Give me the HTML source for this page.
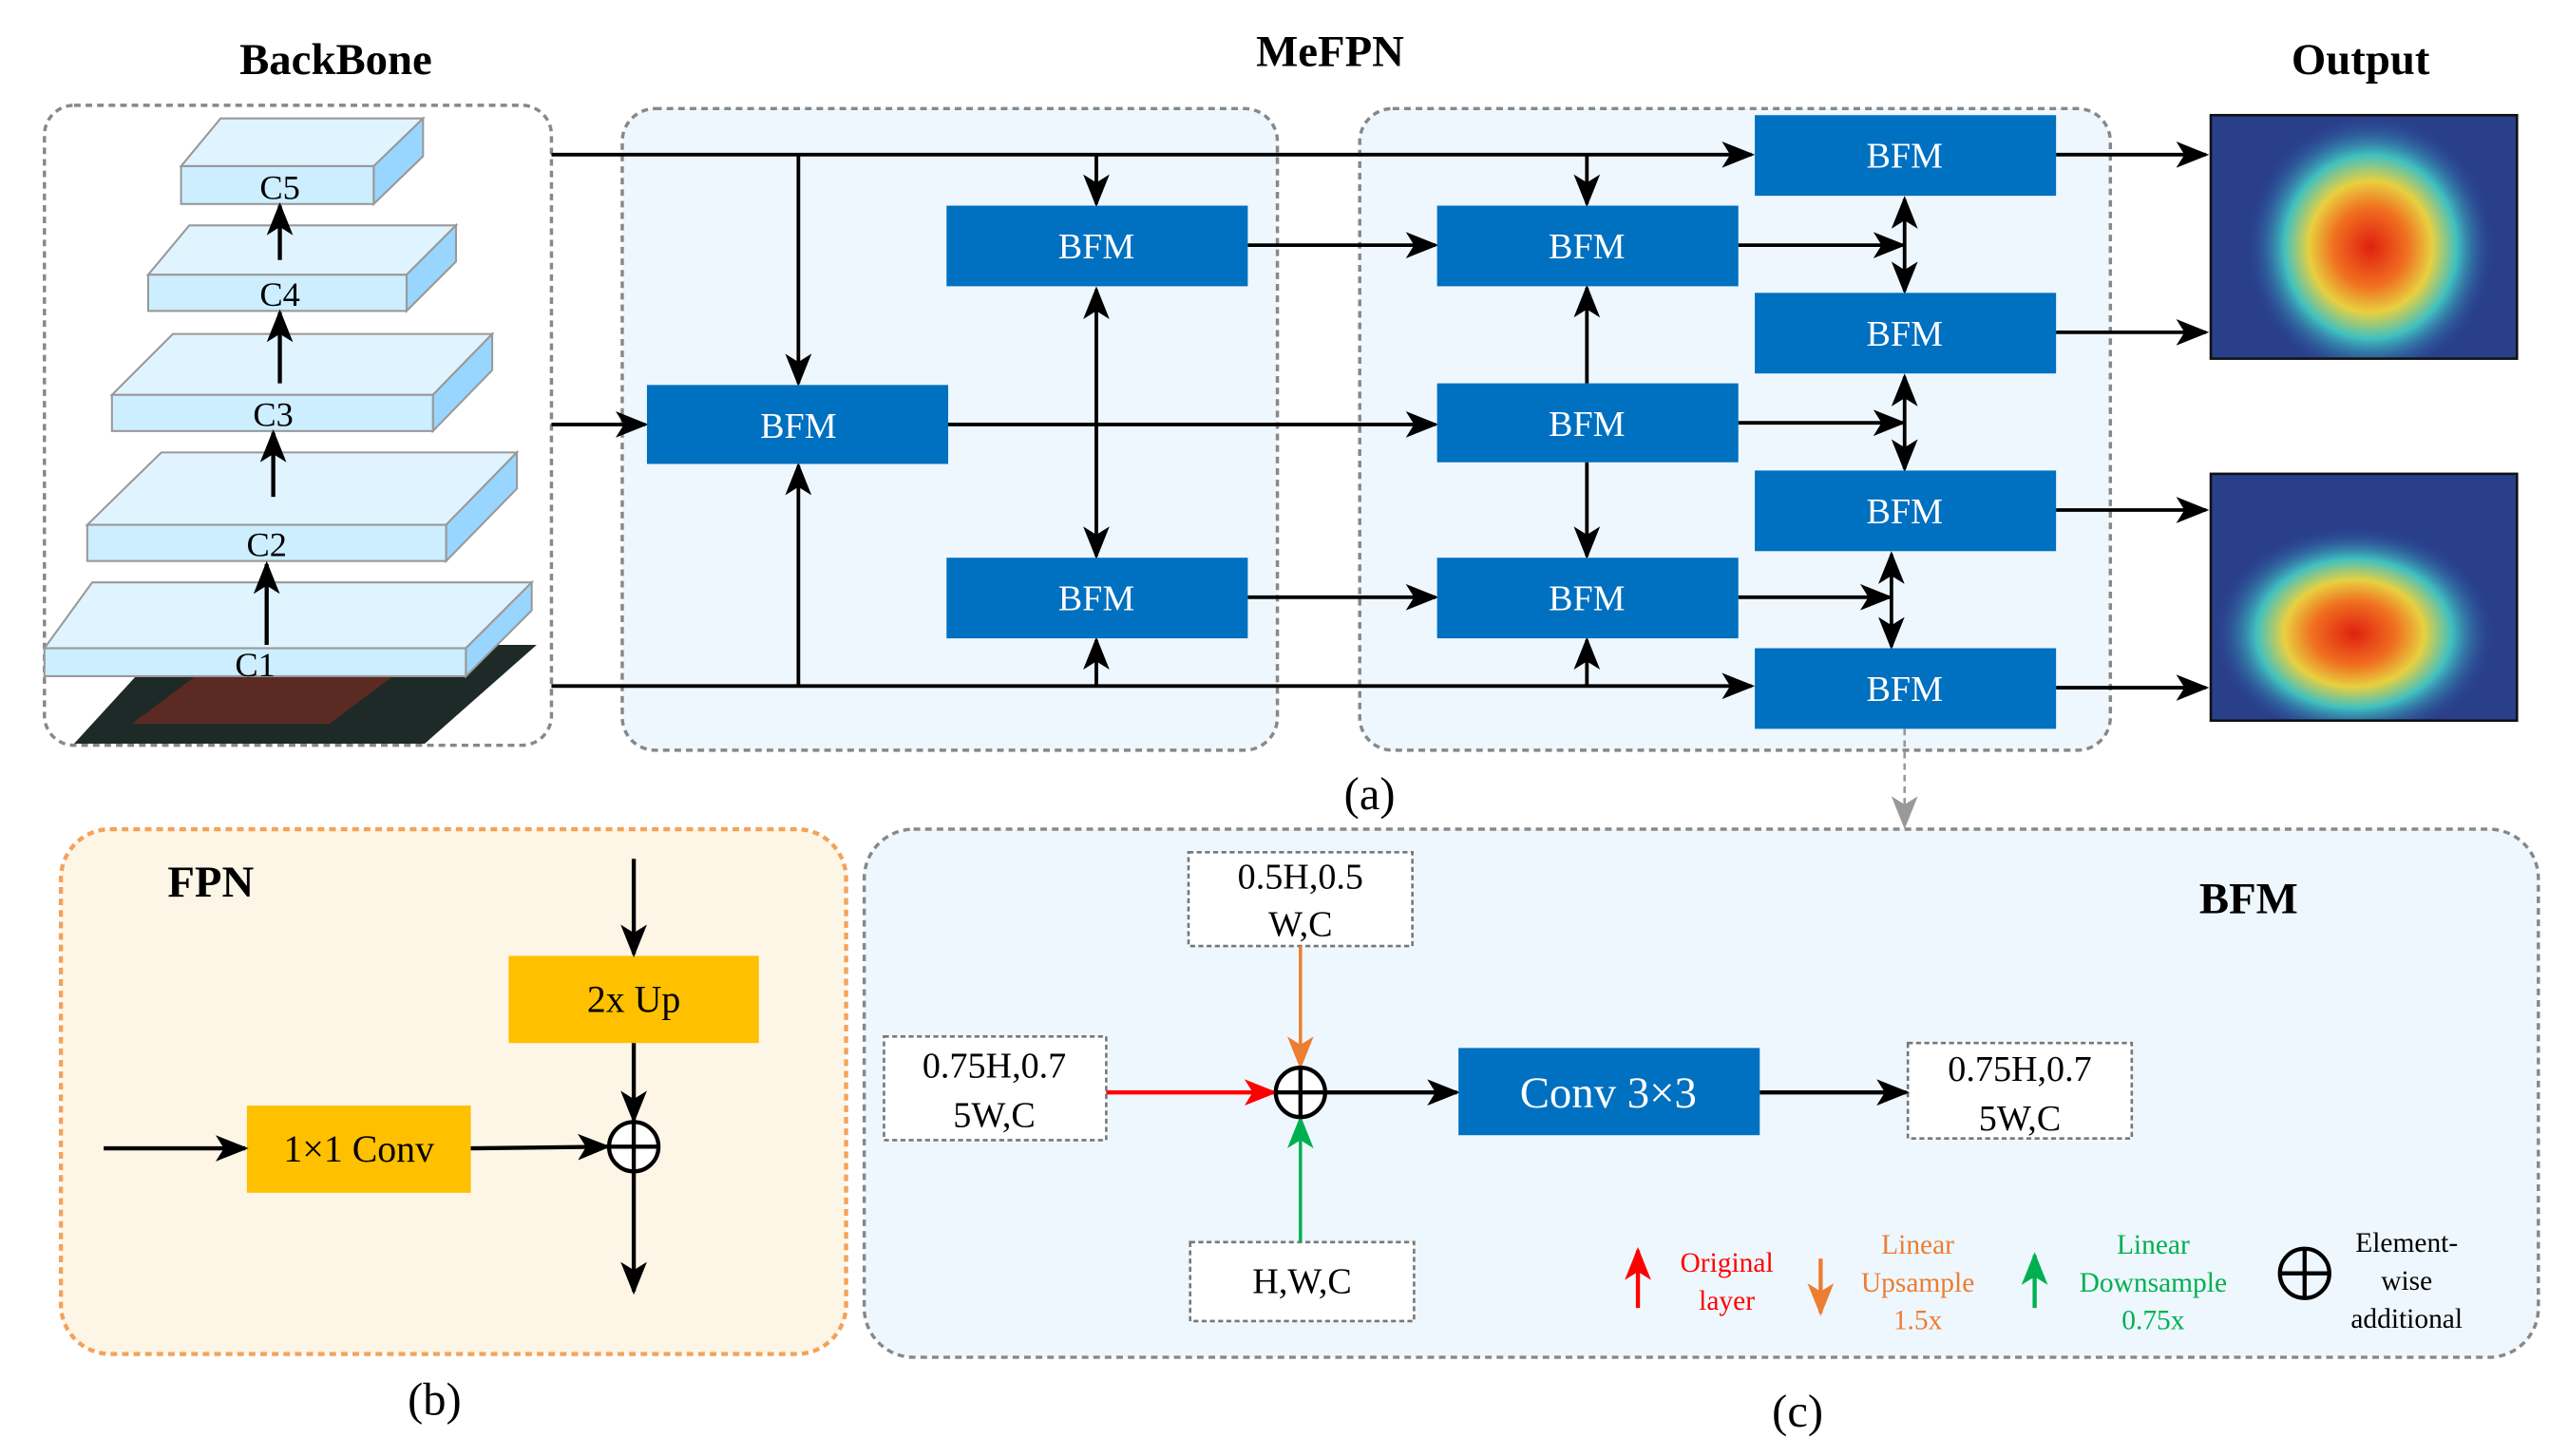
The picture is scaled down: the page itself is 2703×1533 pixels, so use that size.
<!DOCTYPE html>
<html><head><meta charset="utf-8"><style>
html,body{margin:0;padding:0;background:#fff;width:2703px;height:1533px;overflow:hidden}
svg{display:block}
svg text{font-family:"Liberation Serif","Times New Roman","DejaVu Serif",serif}
</style></head><body>
<svg width="2703" height="1533" viewBox="0 0 1560 885" preserveAspectRatio="none" xmlns="http://www.w3.org/2000/svg" font-family="'Liberation Serif', 'Times New Roman', 'DejaVu Serif', serif">
<defs>
<marker id="a" markerUnits="userSpaceOnUse" markerWidth="20" markerHeight="16" refX="18" refY="8" orient="auto"><path d="M0,0 L20,8 L0,16 L5,8 z" fill="#000"/></marker>
<marker id="as" markerUnits="userSpaceOnUse" markerWidth="20" markerHeight="16" refX="18" refY="8" orient="auto-start-reverse"><path d="M0,0 L20,8 L0,16 L5,8 z" fill="#000"/></marker>
<marker id="ao" markerUnits="userSpaceOnUse" markerWidth="20" markerHeight="16" refX="18" refY="8" orient="auto"><path d="M0,0 L20,8 L0,16 L5,8 z" fill="#ed7d31"/></marker>
<marker id="ar" markerUnits="userSpaceOnUse" markerWidth="20" markerHeight="16" refX="18" refY="8" orient="auto"><path d="M0,0 L20,8 L0,16 L5,8 z" fill="#ff0000"/></marker>
<marker id="ag" markerUnits="userSpaceOnUse" markerWidth="20" markerHeight="16" refX="18" refY="8" orient="auto"><path d="M0,0 L20,8 L0,16 L5,8 z" fill="#00b050"/></marker>
<marker id="agr" markerUnits="userSpaceOnUse" markerWidth="20" markerHeight="16" refX="18" refY="8" orient="auto"><path d="M0,0 L20,8 L0,16 L5,8 z" fill="#999"/></marker>
<radialGradient id="h1" cx="0.5" cy="0.5" r="0.5"><stop offset="0" stop-color="#e02010"/><stop offset="0.3" stop-color="#f07020"/><stop offset="0.5" stop-color="#e8d040"/><stop offset="0.7" stop-color="#40c0c0"/><stop offset="1" stop-color="#2a4aa0" stop-opacity="0"/></radialGradient>
<clipPath id="c1"><rect x="1343" y="70" width="186" height="148"/></clipPath>
<clipPath id="c2"><rect x="1343" y="288" width="186" height="150"/></clipPath>
</defs>

<text x="204" y="45" font-size="27" font-weight="bold" text-anchor="middle">BackBone</text>
<text x="808" y="40" font-size="27" font-weight="bold" text-anchor="middle">MeFPN</text>
<text x="1434" y="45" font-size="27" font-weight="bold" text-anchor="middle">Output</text>

<rect x="27" y="64" width="308" height="389" rx="18" fill="#fff" stroke="#888" stroke-width="2" stroke-dasharray="4 3"/>
<polygon points="45,452 258,452 326,392 100,392" fill="#1d2a28"/>
<polygon points="80,440 200,440 240,410 120,410" fill="#6a2a22" opacity="0.8"/>
<g stroke="#999" stroke-width="1.2">
<polygon points="27,394 56,354 323,354 283,394" fill="#e0f4ff"/><polygon points="283,394 323,354 323,371 283,411" fill="#99d6ff"/><rect x="27" y="394" width="256" height="17" fill="#cceeff"/>
<polygon points="53,319 98,275 314,275 271,319" fill="#e0f4ff"/><polygon points="271,319 314,275 314,297 271,341" fill="#99d6ff"/><rect x="53" y="319" width="218" height="22" fill="#cceeff"/>
<polygon points="68,240 105,203 299,203 263,240" fill="#e0f4ff"/><polygon points="263,240 299,203 299,225 263,262" fill="#99d6ff"/><rect x="68" y="240" width="195" height="22" fill="#cceeff"/>
<polygon points="90,167 115,137 277,137 247,167" fill="#e0f4ff"/><polygon points="247,167 277,137 277,159 247,189" fill="#99d6ff"/><rect x="90" y="167" width="157" height="22" fill="#cceeff"/>
<polygon points="110,101 134,72 257,72 227,101" fill="#e0f4ff"/><polygon points="227,101 257,72 257,95 227,124" fill="#99d6ff"/><rect x="110" y="101" width="117" height="23" fill="#cceeff"/>
</g>
<g font-size="21" text-anchor="middle">
<text x="155" y="411">C1</text><text x="162" y="338">C2</text><text x="166" y="259">C3</text><text x="170" y="186">C4</text><text x="170" y="121">C5</text>
</g>
<g stroke="#000" stroke-width="2.5" marker-end="url(#a)">
<line x1="162" y1="392" x2="162" y2="343"/><line x1="166" y1="302" x2="166" y2="263"/><line x1="170" y1="233" x2="170" y2="190"/><line x1="170" y1="158" x2="170" y2="125"/>
</g>

<rect x="378" y="66" width="398" height="390" rx="20" fill="#eef7fd" stroke="#888" stroke-width="2" stroke-dasharray="4 3"/>
<rect x="826" y="66" width="456" height="390" rx="20" fill="#eef7fd" stroke="#888" stroke-width="2" stroke-dasharray="4 3"/>

<g stroke="#000" stroke-width="2.2" fill="none">
<line x1="335" y1="94" x2="1064" y2="94" marker-end="url(#a)"/>
<line x1="335" y1="417" x2="1064" y2="417" marker-end="url(#a)"/>
<line x1="335" y1="258" x2="392" y2="258" marker-end="url(#a)"/>
<line x1="485" y1="94" x2="485" y2="233" marker-end="url(#a)"/>
<line x1="485" y1="417" x2="485" y2="283" marker-end="url(#a)"/>
<line x1="666" y1="94" x2="666" y2="124" marker-end="url(#a)"/>
<line x1="666" y1="176" x2="666" y2="338" marker-start="url(#as)" marker-end="url(#a)"/>
<line x1="666" y1="417" x2="666" y2="389" marker-end="url(#a)"/>
<line x1="576" y1="258" x2="872" y2="258" marker-end="url(#a)"/>
<line x1="758" y1="149" x2="872" y2="149" marker-end="url(#a)"/>
<line x1="758" y1="363" x2="872" y2="363" marker-end="url(#a)"/>
<line x1="964" y1="94" x2="964" y2="124" marker-end="url(#a)"/>
<line x1="964" y1="233" x2="964" y2="175" marker-end="url(#a)"/>
<line x1="964" y1="281" x2="964" y2="338" marker-end="url(#a)"/>
<line x1="964" y1="417" x2="964" y2="389" marker-end="url(#a)"/>
<line x1="1056" y1="149" x2="1156" y2="149" marker-end="url(#a)"/>
<line x1="1056" y1="257" x2="1156" y2="257" marker-end="url(#a)"/>
<line x1="1056" y1="363" x2="1148" y2="363" marker-end="url(#a)"/>
<line x1="1157" y1="121" x2="1157" y2="177" marker-start="url(#as)" marker-end="url(#a)"/>
<line x1="1157" y1="229" x2="1157" y2="285" marker-start="url(#as)" marker-end="url(#a)"/>
<line x1="1149" y1="337" x2="1149" y2="393" marker-start="url(#as)" marker-end="url(#a)"/>
<line x1="1249" y1="94" x2="1340" y2="94" marker-end="url(#a)"/>
<line x1="1249" y1="202" x2="1340" y2="202" marker-end="url(#a)"/>
<line x1="1249" y1="310" x2="1340" y2="310" marker-end="url(#a)"/>
<line x1="1249" y1="418" x2="1340" y2="418" marker-end="url(#a)"/>
</g>

<g fill="#0070c0">
<rect x="393" y="234" width="183" height="48"/>
<rect x="575" y="125" width="183" height="49"/><rect x="575" y="339" width="183" height="49"/>
<rect x="873" y="125" width="183" height="49"/><rect x="873" y="233" width="183" height="48"/><rect x="873" y="339" width="183" height="49"/>
<rect x="1066" y="70" width="183" height="49"/><rect x="1066" y="178" width="183" height="49"/><rect x="1066" y="286" width="183" height="49"/><rect x="1066" y="394" width="183" height="49"/>
</g>
<g fill="#fff" font-size="22" text-anchor="middle">
<text x="485" y="266">BFM</text>
<text x="666" y="157">BFM</text><text x="666" y="371">BFM</text>
<text x="964" y="157">BFM</text><text x="964" y="265">BFM</text><text x="964" y="371">BFM</text>
<text x="1157" y="102">BFM</text><text x="1157" y="210">BFM</text><text x="1157" y="318">BFM</text><text x="1157" y="426">BFM</text>
</g>

<rect x="1343" y="70" width="186" height="148" fill="#2a3f8a"/>
<g clip-path="url(#c1)"><ellipse cx="1440" cy="150" rx="75" ry="80" fill="url(#h1)"/></g>
<rect x="1343" y="70" width="186" height="148" fill="none" stroke="#111" stroke-width="1.5"/>
<rect x="1343" y="288" width="186" height="150" fill="#2a3f8a"/>
<g clip-path="url(#c2)"><ellipse cx="1430" cy="385" rx="85" ry="65" fill="url(#h1)"/></g>
<rect x="1343" y="288" width="186" height="150" fill="none" stroke="#111" stroke-width="1.5"/>

<text x="832" y="492" font-size="28" text-anchor="middle">(a)</text>
<line x1="1157" y1="443" x2="1157" y2="502" stroke="#999" stroke-width="1.5" stroke-dasharray="4 3" marker-end="url(#agr)"/>

<rect x="37" y="504" width="477" height="319" rx="30" fill="#fdf6e6" stroke="#f4a25a" stroke-width="2.5" stroke-dasharray="4 3"/>
<text x="128" y="545" font-size="27" font-weight="bold" text-anchor="middle">FPN</text>
<rect x="309" y="581" width="152" height="53" fill="#ffc000"/>
<text x="385" y="615" font-size="23" text-anchor="middle">2x Up</text>
<rect x="150" y="672" width="136" height="53" fill="#ffc000"/>
<text x="218" y="706" font-size="23" text-anchor="middle">1×1 Conv</text>
<g stroke="#000" stroke-width="2.5" fill="none">
<line x1="385" y1="522" x2="385" y2="580" marker-end="url(#a)"/>
<line x1="385" y1="634" x2="385" y2="681" marker-end="url(#a)"/>
<line x1="385" y1="713" x2="385" y2="785" marker-end="url(#a)"/>
<line x1="63" y1="698" x2="149" y2="698" marker-end="url(#a)"/>
<line x1="286" y1="698" x2="369" y2="697" marker-end="url(#a)"/>
<circle cx="385" cy="697" r="15" fill="#fff"/><line x1="370" y1="697" x2="400" y2="697"/><line x1="385" y1="682" x2="385" y2="712"/>
</g>
<text x="264" y="860" font-size="28" text-anchor="middle">(b)</text>

<rect x="525" y="504" width="1017" height="321" rx="30" fill="#eef7fd" stroke="#888" stroke-width="2" stroke-dasharray="4 3"/>
<text x="1366" y="555" font-size="27" font-weight="bold" text-anchor="middle">BFM</text>
<g fill="#fff" stroke="#777" stroke-width="1.5" stroke-dasharray="3 2">
<rect x="722" y="518" width="136" height="57"/><rect x="537" y="630" width="135" height="63"/><rect x="723" y="755" width="136" height="48"/><rect x="1159" y="634" width="136" height="58"/>
</g>
<g font-size="22" text-anchor="middle">
<text x="790" y="540">0.5H,0.5</text><text x="790" y="569">W,C</text>
<text x="604" y="655">0.75H,0.7</text><text x="604" y="685">5W,C</text>
<text x="791" y="786">H,W,C</text>
<text x="1227" y="657">0.75H,0.7</text><text x="1227" y="687">5W,C</text>
</g>
<line x1="790" y1="575" x2="790" y2="648" stroke="#ed7d31" stroke-width="2" marker-end="url(#ao)"/>
<line x1="672" y1="664" x2="774" y2="664" stroke="#ff0000" stroke-width="2.5" marker-end="url(#ar)"/>
<line x1="790" y1="755" x2="790" y2="680" stroke="#00b050" stroke-width="2" marker-end="url(#ag)"/>
<g stroke="#000" stroke-width="2.5" fill="none">
<line x1="805" y1="664" x2="885" y2="664" marker-end="url(#a)"/>
<line x1="1069" y1="664" x2="1158" y2="664" marker-end="url(#a)"/>
<circle cx="790" cy="664" r="15" fill="#fff"/><line x1="775" y1="664" x2="805" y2="664"/><line x1="790" y1="649" x2="790" y2="679"/>
</g>
<rect x="886" y="637" width="183" height="53" fill="#0070c0"/>
<text x="977" y="673" font-size="27" fill="#fff" text-anchor="middle">Conv 3×3</text>

<line x1="995" y1="795" x2="995" y2="760" stroke="#ff0000" stroke-width="2.5" marker-end="url(#ar)"/>
<line x1="1106" y1="765" x2="1106" y2="798" stroke="#ed7d31" stroke-width="2.5" marker-end="url(#ao)"/>
<line x1="1236" y1="795" x2="1236" y2="763" stroke="#00b050" stroke-width="2.5" marker-end="url(#ag)"/>
<g font-size="17" text-anchor="middle">
<text x="1049" y="773" fill="#ff0000">Original</text><text x="1049" y="796" fill="#ff0000">layer</text>
<text x="1165" y="762" fill="#ed7d31">Linear</text><text x="1165" y="785" fill="#ed7d31">Upsample</text><text x="1165" y="808" fill="#ed7d31">1.5x</text>
<text x="1308" y="762" fill="#00b050">Linear</text><text x="1308" y="785" fill="#00b050">Downsample</text><text x="1308" y="808" fill="#00b050">0.75x</text>
<text x="1462" y="761">Element-</text><text x="1462" y="784">wise</text><text x="1462" y="807">additional</text>
</g>
<g stroke="#000" stroke-width="2.5" fill="none">
<circle cx="1400" cy="774" r="15"/><line x1="1386" y1="774" x2="1414" y2="774"/><line x1="1400" y1="760" x2="1400" y2="788"/>
</g>
<text x="1092" y="867" font-size="28" text-anchor="middle">(c)</text>
</svg>
</body></html>
